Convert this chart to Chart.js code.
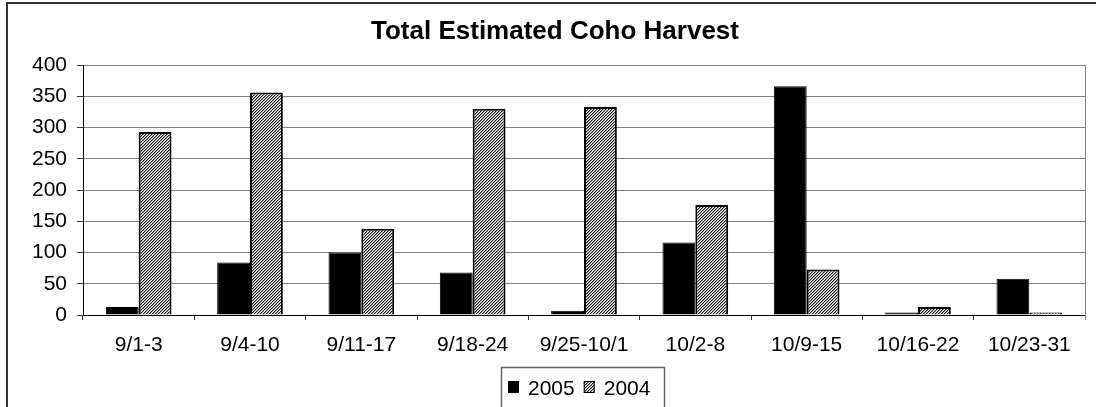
<!DOCTYPE html>
<html>
<head>
<meta charset="utf-8">
<title>Total Estimated Coho Harvest</title>
<script src="https://cdn.jsdelivr.net/npm/chart.js@4.4.1/dist/chart.umd.min.js"></script>
<style>
  html, body { margin: 0; padding: 0; background: #ffffff; }
  #wrap { width: 1096px; height: 407px; position: relative; }
</style>
</head>
<body>
<div id="wrap"><canvas id="chart" width="1096" height="407"></canvas></div>
<script>
// Weekly harvest periods and estimated coho counts
const periods = ['9/1-3', '9/4-10', '9/11-17', '9/18-24', '9/25-10/1', '10/2-8', '10/9-15', '10/16-22', '10/23-31'];
const harvest2005 = [13, 84, 100, 68, 7, 116, 366, 4, 58];
const harvest2004 = [293, 356, 138, 330, 333, 176, 73, 13, 4];
const seriesNames = ['2005', '2004'];
const yTicks = [0, 50, 100, 150, 200, 250, 300, 350, 400];

const FONT = '"Liberation Sans", Arial, sans-serif';

// Fine diagonal hatch fill used for the 2004 series
function makeHatch() {
  const c = document.createElement('canvas');
  c.width = 3; c.height = 3;
  const g = c.getContext('2d');
  g.fillStyle = '#ffffff';
  g.fillRect(0, 0, 3, 3);
  for (let x = 0; x < 3; x++) {
    for (let y = 0; y < 3; y++) {
      const k = (x + y) % 3;
      if (k === 0) { g.fillStyle = '#1a1a1a'; g.fillRect(x, y, 1, 1); }
      if (k === 1) { g.fillStyle = '#9a9a9a'; g.fillRect(x, y, 1, 1); }
    }
  }
  return g.createPattern(c, 'repeat');
}

const ctx = document.getElementById('chart').getContext('2d');
const hatch = makeHatch();

// Outer frame, title, right plot edge and boxed legend
const decorations = {
  id: 'decorations',
  beforeDraw(chart) {
    const c = chart.ctx;
    c.save();
    c.fillStyle = '#ffffff';
    c.fillRect(0, 0, chart.width, chart.height);
    c.strokeStyle = '#333333';
    c.lineWidth = 2;
    c.strokeRect(7, 3, chart.width + 20, chart.height + 20);
    c.restore();
  },
  afterDraw(chart) {
    const c = chart.ctx;
    const a = chart.chartArea;
    c.save();
    // right edge of plot area
    c.strokeStyle = '#808080';
    c.lineWidth = 1;
    c.beginPath();
    c.moveTo(Math.round(a.right) + 0.5, a.top);
    c.lineTo(Math.round(a.right) + 0.5, a.bottom + 5);
    c.stroke();

    // title
    c.fillStyle = '#000000';
    c.font = 'bold 26px ' + FONT;
    c.textAlign = 'center';
    c.textBaseline = 'alphabetic';
    c.fillText('Total Estimated Coho Harvest', 555, 39);

    // legend
    const lx = 501, ly = 367, lw = 163;
    c.strokeStyle = '#666666';
    c.lineWidth = 1.5;
    c.strokeRect(lx + 0.5, ly + 0.5, lw, 60);
    c.font = '21px ' + FONT;
    c.textAlign = 'left';
    let x = lx + 7;
    chart.data.datasets.forEach((ds) => {
      c.fillStyle = ds.backgroundColor;
      c.fillRect(x, 381, 11, 12);
      c.strokeStyle = '#000000';
      c.lineWidth = 1;
      c.strokeRect(x + 0.5, 381.5, 10, 11);
      c.fillStyle = '#000000';
      c.fillText(ds.label, x + 20, 395);
      x += 20 + c.measureText(ds.label).width + 9;
    });
    c.restore();
  }
};

new Chart(ctx, {
  type: 'bar',
  data: {
    labels: periods,
    datasets: [
      {
        label: seriesNames[0],
        data: harvest2005,
        backgroundColor: '#000000',
        borderColor: '#000000',
        borderWidth: 1
      },
      {
        label: seriesNames[1],
        data: harvest2004,
        backgroundColor: hatch,
        borderColor: '#000000',
        borderWidth: 2
      }
    ]
  },
  options: {
    responsive: false,
    animation: false,
    devicePixelRatio: 1,
    layout: { padding: { top: 65, right: 11, bottom: 0, left: 0 } },
    datasets: {
      bar: { categoryPercentage: 0.59, barPercentage: 1.0 }
    },
    plugins: {
      legend: { display: false },
      title: { display: false },
      tooltip: { enabled: false }
    },
    scales: {
      x: {
        offset: true,
        grid: {
          offset: true,
          drawOnChartArea: false,
          drawTicks: true,
          tickLength: 5,
          tickColor: '#333333'
        },
        border: { display: true, color: '#000000', width: 1 },
        ticks: {
          color: '#000000',
          font: { family: FONT, size: 21 },
          padding: 13,
          maxRotation: 0,
          autoSkip: false
        },
        afterFit(scale) { scale.height = 92; }
      },
      y: {
        min: 0,
        max: 400,
        afterBuildTicks(scale) { scale.ticks = yTicks.map(v => ({ value: v })); },
        grid: {
          color: '#808080',
          lineWidth: 1,
          drawTicks: true,
          tickLength: 6,
          tickColor: '#333333'
        },
        border: { display: true, color: '#000000', width: 1 },
        ticks: {
          color: '#000000',
          font: { family: FONT, size: 21 },
          padding: 10
        },
        afterFit(scale) { scale.width = 83; }
      }
    }
  },
  plugins: [decorations]
});
</script>
</body>
</html>
